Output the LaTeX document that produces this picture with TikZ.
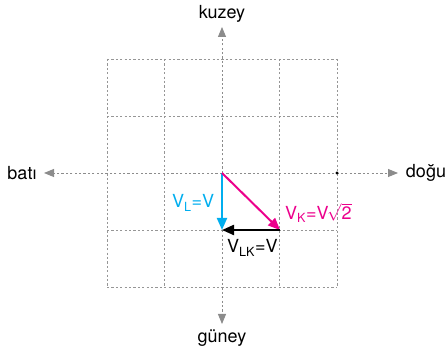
\documentclass[tikz,border=0pt]{standalone}
\usepackage{fontspec}
\setmainfont{TeX Gyre Heros}
\usetikzlibrary{arrows.meta}
\definecolor{gridgray}{RGB}{150,150,150}
\definecolor{axgray}{RGB}{140,140,140}
\definecolor{vcyan}{RGB}{0,174,239}
\definecolor{vmag}{RGB}{236,0,140}
\tikzset{
  gridline/.style={gridgray, line width=0.8pt, dash pattern=on 2.2pt off 2.2pt},
  axisline/.style={axgray, line width=0.9pt, dash pattern=on 2.2pt off 2.2pt, -{Triangle[length=10pt,width=8pt]}},
  vec/.style={line width=2pt, -{Triangle[length=12pt,width=10pt]}},
  dirlabel/.style={font=\fontsize{18}{20}\selectfont, inner sep=0pt},
  veclabel/.style={font=\fontsize{18}{20}\selectfont, inner sep=0pt, anchor=west}
}
\begin{document}
\begin{tikzpicture}[x=1pt,y=-1pt]
\useasboundingbox (0,0) rectangle (448,355);
% grid (middle lines are the axes)
\foreach \i in {0,1,3,4} {
  \draw[gridline] ({107+57.5*\i},59) -- ({107+57.5*\i},287);
  \draw[gridline] (107,{59+57*\i}) -- (337,{59+57*\i});
}
\coordinate (O) at (222,173);
\coordinate (Wt) at (44,173);
\coordinate (Et) at (398,173);
\coordinate (Nt) at (222,27);
\coordinate (St) at (222,324);
\draw[axisline] (O) -- (Wt);
\draw[axisline] (O) -- (Et);
\draw[axisline] (O) -- (Nt);
\draw[axisline] (O) -- (St);
\node[dirlabel] (bati) at (22,173) {batı};
\node[dirlabel] (dogu) at (426,173) {doğu};
\node[dirlabel] (kuzey) at (222,14) {kuzey};
\node[dirlabel] (guney) at (222,338) {güney};
\fill (337,173) circle (1.6pt);
% vectors
\coordinate (S) at (222,230);
\coordinate (E) at (280,230);
\draw[vec, vcyan] (O) -- (S);
\draw[vec, vmag] (O) -- (E);
\draw[vec, black, line width=2.2pt] (E) -- (S);
\node[veclabel, vcyan] (vl) at (172,203) {V\textsubscript{L}=V};
\node[veclabel, vmag] (vk) at (285,213) {V\textsubscript{K}=V\kern-1.5pt$\scriptstyle\sqrt{\mbox{\fontsize{18}{20}\selectfont 2}}$};
\node[veclabel, black] (vlk) at (227,248) {V\textsubscript{LK}=V};
\end{tikzpicture}
\end{document}
